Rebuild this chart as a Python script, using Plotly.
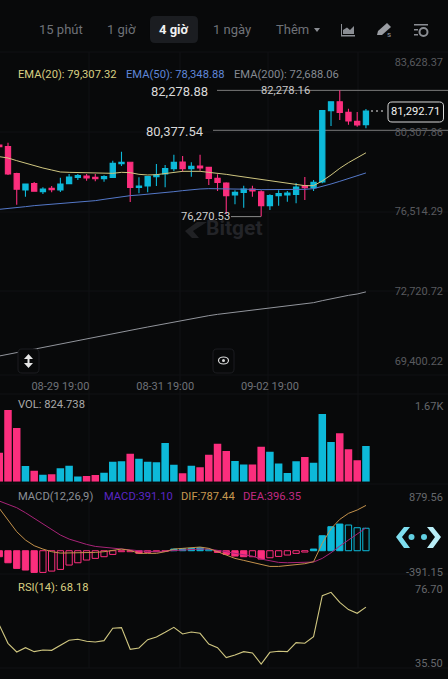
import plotly.graph_objects as go

# ---------- data ----------
opens = [79678,79599,78314,77537,77839,77458,77616,77537,77839,78140,78203,78140,78076,78140,78790,78854,77664,77728,78172,78298,78552,78870,78552,78679,78615,78092,77870,77299,77426,77584,77457,76791,77267,77299,77330,77743,77648,77918,81312,81740,81232,80804,80646]
highs = [79710,79789,78362,77840,77918,77664,77728,78124,78298,78298,78298,78298,78235,78933,79361,78885,78140,78172,78774,78727,79218,79155,78854,79218,78615,78282,77900,77521,77743,77743,77521,77330,77521,77489,77870,78155,78012,81312,81740,82278.88,81407,81248,81390]
lows = [79560,78251,76839,77220,77470,77347,77426,77442,77830,78013,77981,77950,77934,78130,78679,76966,77379,77426,77728,77664,78425,78409,78172,78457,77774,77489,76379,76855,76696,77219,76270.53,76585,76791,76981,76902,77061,77489,77855,80582,80868,80646,80551,80471]
closes = [79599,78298,77569,77823,77474,77585,77553,77823,78156,78219,78108,78076,78171,78806,78854,77664,77728,78172,78251,78552,78854,78552,78663,78584,78092,77901,77267,77426,77584,77489,76791,77267,77362,77394,77679,77648,77901,81312,81740,81232,80820,80630,81292.71]
ema20 = [79123,79060,78933,78806,78679,78584,78489,78394,78378,78362,78346,78330,78330,78330,78378,78362,78283,78251,78267,78330,78394,78425,78425,78425,78377,78345,78282,78219,78155,78092,78028,77965,77901,77838,77774,77743,77743,77966,78251,78568,78838,79060,79307.32]
ema50 = [76617,76649,76681,76744,76792,76824,76840,76887,76935,76966,76998,77030,77093,77157,77220,77268,77299,77331,77363,77410,77458,77506,77553,77585,77601,77601,77585,77569,77569,77569,77553,77553,77553,77553,77553,77569,77601,77696,77823,77950,78076,78203,78348.88]
ema200 = [69637,69716,69795,69875,69954,70033,70113,70192,70271,70351,70446,70525,70604,70700,70779,70858,70937,71017,71096,71175,71255,71334,71429,71493,71556,71619,71667,71715,71762,71810,71857,71905,71952,72000,72047,72111,72175,72270,72365,72460,72524,72587,72688.06]
volume = [670,1655,1240,362,254,162,170,308,370,123,131,154,208,462,470,647,531,462,447,893,393,193,370,331,624,878,708,477,400,400,808,693,423,200,470,570,439,1563,916,1117,747,493,824.738]
macd_hist = [-104,-209,-307,-336,-377,-377,-354,-325,-249,-209,-162,-133,-104,-64,-17,-17,-46,-29,-17,-12,29,35,41,52,23,-29,-64,-93,-104,-104,-145,-122,-99,-75,-46,-23,29,261,418,464,447,400,391.10]
dif = [737,534,331,186,87,29,-17,-41,-41,-35,-29,-29,-17,0,29,6,-46,-46,-46,-17,29,41,58,64,41,-17,-64,-133,-168,-203,-249,-273,-273,-261,-249,-226,-191,128,383,545,650,708,787.44]
dea = [864,812,748,661,563,458,360,273,203,151,110,75,58,41,29,12,0,-12,-17,-6,6,12,23,29,29,12,-17,-46,-75,-93,-145,-180,-203,-209,-209,-209,-197,-133,-35,81,186,284,396.35]
rsi = [57.92,47.39,42.40,44.89,42.60,43.55,43.36,46.24,49.11,49.68,48.54,48.15,48.92,56.01,56.39,43.94,44.70,49.49,51.03,53.71,56.58,52.75,53.90,53.13,46.99,44.89,39.15,40.68,42.60,41.83,35.50,42.21,42.79,42.60,47.77,47.39,51.22,74.78,76.70,70.95,66.74,64.63,68.18]
date_labels = ["08-29 19:00", "08-31 19:00", "09-02 19:00"]
date_positions = [7, 19, 31]
price_ticks = [83628.37, 80307.86, 76514.29, 72720.72, 69400.22]
intervals = ["15 phút", "1 giờ", "4 giờ", "1 ngày", "Thêm"]

# ---------- styling ----------
W, H = 448, 679
BG = "#08090a"
UP = "#0db9d9"
DOWN = "#fb2e7d"
GRID = "#111215"
FONT = "Roboto"
xs = list(range(len(closes)))

def px(x): return x / W
def py(y): return 1 - y / H
def dom(top, bottom): return [py(bottom), py(top)]

shapes, annos = [], []

def label(x, y, text, size=11, color="#888", anchor="left", bold=False):
    t = f"<b>{text}</b>" if bold else text
    annos.append(dict(x=px(x), y=py(y), xref="paper", yref="paper", text=t, showarrow=False,
                      xanchor=anchor, yanchor="middle", font=dict(size=size, color=color, family=FONT),
                      borderpad=0, borderwidth=0))

def path(points, fill=None, line=None, width=1, close=True, layer="above"):
    d = "M " + " L ".join(f"{px(a):.5f} {py(b):.5f}" for a, b in points) + (" Z" if close else "")
    shapes.append(dict(type="path", path=d, xref="paper", yref="paper", layer=layer,
                       fillcolor=fill or "rgba(0,0,0,0)", line=dict(color=line or "rgba(0,0,0,0)", width=width if line else 0)))

def rect(x0, y0, x1, y1, fill=None, line=None, width=1, layer="above", r=0):
    d = (f"M {px(x0+r):.5f} {py(y0):.5f} L {px(x1-r):.5f} {py(y0):.5f} Q {px(x1):.5f} {py(y0):.5f} {px(x1):.5f} {py(y0+r):.5f} "
         f"L {px(x1):.5f} {py(y1-r):.5f} Q {px(x1):.5f} {py(y1):.5f} {px(x1-r):.5f} {py(y1):.5f} "
         f"L {px(x0+r):.5f} {py(y1):.5f} Q {px(x0):.5f} {py(y1):.5f} {px(x0):.5f} {py(y1-r):.5f} "
         f"L {px(x0):.5f} {py(y0+r):.5f} Q {px(x0):.5f} {py(y0):.5f} {px(x0+r):.5f} {py(y0):.5f} Z")
    shapes.append(dict(type="path", path=d, xref="paper", yref="paper", layer=layer,
                       fillcolor=fill or "rgba(0,0,0,0)", line=dict(color=line or "rgba(0,0,0,0)", width=width if line else 0)))

# faint frame / grid
for gx in (89, 180, 268, 358):
    path([(gx, 52), (gx, 668)], line=GRID, width=1, close=False, layer="below")
for gy in (52, 132, 212, 291, 375, 394, 484, 574, 668):
    path([(0, gy), (448, gy)], line=GRID, width=1, close=False, layer="below")

# header
rect(150, 16, 198, 43, fill="#1b1d21", r=5)
label(61, 30, intervals[0], 13, "#6f7278", "center")
label(121, 30, intervals[1], 13, "#6f7278", "center")
label(174, 30, intervals[2], 13, "#f2f2f2", "center", bold=True)
label(232, 30, intervals[3], 13, "#6f7278", "center")
label(292, 30, intervals[4], 13, "#6f7278", "center")
path([(314, 28), (320, 28), (317, 32)], fill="#8a8d93")
# area-chart icon
path([(341, 24), (342, 24), (342, 35), (355, 35), (355, 36.5), (341, 36.5)], fill="#8a8d93")
path([(343, 34), (343, 30), (347, 27.5), (350, 30), (354, 26), (354, 34)], fill="#8a8d93")
# pen icon
path([(377, 35), (378, 31), (387, 23), (391, 27), (382, 35)], fill="#9a9da3")
label(388.5, 34, "s", 8, "#9a9da3", "center")
# settings icon
path([(414, 24), (428, 24), (428, 25.5), (414, 25.5)], fill="#8a8d93")
path([(414, 29), (418, 29), (418, 30.5), (414, 30.5)], fill="#8a8d93")
path([(414, 34), (418, 34), (418, 35.5), (414, 35.5)], fill="#8a8d93")
shapes.append(dict(type="circle", x0=px(419.5), x1=px(427.5), y0=py(28), y1=py(36), xref="paper", yref="paper",
                   line=dict(color="#8a8d93", width=2)))

# legends
label(18, 74, "EMA(20): 79,307.32", 11.2, "#d8cf82")
label(126, 74, "EMA(50): 78,348.88", 11.2, "#5f86d8")
label(234, 74, "EMA(200): 72,688.06", 11.2, "#858a92")
label(18, 404, "VOL: 824.738", 11.2, "#a8a8a8")
label(18, 496, "MACD(12,26,9)", 11.2, "#8b8f96")
label(104, 496, "MACD:391.10", 11.2, "#5a26c4")
label(181, 496, "DIF:787.44", 11.2, "#c7984f")
label(243, 496, "DEA:396.35", 11.2, "#c02a83")
label(18, 587, "RSI(14): 68.18", 11.2, "#d8cf82")

# pane scale labels
label(443, 406, "1.67K", 11, "#66686c", "right")
label(443, 498, "879.56", 11, "#66686c", "right")
label(443, 572, "-391.15", 11, "#66686c", "right")
label(443, 589, "76.70", 11, "#66686c", "right")
label(443, 663, "35.50", 11, "#66686c", "right")

# price annotations
label(179.5, 91.5, "82,278.88", 13, "#d8d8d8", "center")
label(174.5, 131.5, "80,377.54", 13, "#d8d8d8", "center")
label(285, 90.5, "82,278.16", 11.2, "#c8c8c8", "center")
label(205.5, 217, "76,270.53", 11.2, "#d0d0d0", "center")
for yv, x0 in ((82278.88, 217), (80377.54, 213)):
    shapes.append(dict(type="line", xref="paper", yref="y", x0=px(x0), x1=1, y0=yv, y1=yv, layer="below",
                       line=dict(color="#7a7a7a", width=1)))
shapes.append(dict(type="line", xref="paper", yref="y", x0=px(231), x1=px(261), y0=lows[30], y1=lows[30],
                   line=dict(color="#8a8a8a", width=1)))
path([(371, 111), (385, 111)], line="#e8e8e8", width=1.2, close=False)
shapes[-1]["line"]["dash"] = "2px,3px"
rect(388, 102, 443.5, 122, fill=BG, line="#d8d8d8", width=1, r=4)
label(415.7, 112, "81,292.71", 11.2, "#f0f0f0", "center")

# watermark
path([(185, 231), (197, 222), (207, 222), (193, 231), (199, 238), (192, 238)], fill="#202124", layer="below")
label(206, 228, "Bitget", 21, "#232428", "left", bold=True)

# bottom-of-pane buttons
rect(18, 349, 39, 373, fill=BG, line="#1c1d21", r=4)
path([(28.5, 354), (33, 359), (29.5, 359), (29.5, 363), (33, 363), (28.5, 368), (24, 363), (27.5, 363), (27.5, 359), (24, 359)], fill="#e6e6e6")
rect(213, 349, 234, 373, fill=BG, line="#1c1d21", r=4)
shapes.append(dict(type="circle", x0=px(218.5), x1=px(228.5), y0=py(357), y1=py(364), xref="paper", yref="paper",
                   line=dict(color="#d8d8d8", width=1.2)))
shapes.append(dict(type="circle", x0=px(222), x1=px(225), y0=py(359), y1=py(362), xref="paper", yref="paper",
                   fillcolor="#d8d8d8", line=dict(width=0)))

# cyan pager glyph
path([(404, 527), (410, 527), (402, 537), (410, 548), (404, 548), (396, 537)], fill="#7fdff0")
path([(433, 527), (427, 527), (435, 537), (427, 548), (433, 548), (441, 537)], fill="#b9eef7")
for cx in (411.5, 424):
    shapes.append(dict(type="circle", x0=px(cx-3), x1=px(cx+3), y0=py(534), y1=py(540), xref="paper", yref="paper",
                       fillcolor="#62cfe2", line=dict(width=0)))

# ---------- traces ----------
fig = go.Figure()
fig.add_trace(go.Candlestick(x=xs, open=opens, high=highs, low=lows, close=closes, yaxis="y", xaxis="x",
                             whiskerwidth=0,
                             increasing=dict(line=dict(color=UP, width=1.1), fillcolor=UP),
                             decreasing=dict(line=dict(color=DOWN, width=1.1), fillcolor=DOWN)))
for series, color, w in ((ema200, "#92959c", 1), (ema50, "#5478c8", 1), (ema20, "#cfc680", 1)):
    fig.add_trace(go.Scatter(x=xs, y=series, mode="lines", line=dict(color=color, width=w), yaxis="y", xaxis="x"))

vol_colors = [UP if c >= o else DOWN for o, c in zip(opens, closes)]
fig.add_trace(go.Bar(x=xs, y=volume, width=0.86, marker=dict(color=vol_colors, line=dict(width=0)), yaxis="y2", xaxis="x"))

hist_line, hist_fill = [], []
for i, v in enumerate(macd_hist):
    col = UP if v >= 0 else DOWN
    hist_line.append(col)
    grow = i == 0 or abs(v) > abs(macd_hist[i - 1])
    hist_fill.append(col if grow else "rgba(0,0,0,0)")
fig.add_trace(go.Bar(x=xs, y=macd_hist, width=0.72, marker=dict(color=hist_fill, line=dict(color=hist_line, width=1)), yaxis="y3", xaxis="x"))
fig.add_trace(go.Scatter(x=xs, y=dea, mode="lines", line=dict(color="#a82478", width=1), yaxis="y3", xaxis="x"))
fig.add_trace(go.Scatter(x=xs, y=dif, mode="lines", line=dict(color="#c4924c", width=1), yaxis="y3", xaxis="x"))
fig.add_trace(go.Scatter(x=xs, y=rsi, mode="lines", line=dict(color="#cfc680", width=1.1), yaxis="y4", xaxis="x"))

# ---------- axes ----------
def price_at(y): return 83628.37 - (y - 62) * 47.59
def axis(top, bottom, rng, **kw):
    return dict(domain=dom(top, bottom), range=rng, side="right", anchor="x", ticks="", showgrid=False,
                zeroline=False, showline=False, fixedrange=True, **kw)

fig.update_layout(
    width=W, height=H, margin=dict(l=0, r=0, t=0, b=0), paper_bgcolor=BG, plot_bgcolor="rgba(0,0,0,0)",
    showlegend=False, barmode="overlay", boxgap=0.14, font=dict(family=FONT),
    shapes=shapes, annotations=annos,
    xaxis=dict(range=[0.084, 51.4], anchor="y", domain=[0, 1], tickvals=date_positions, ticktext=date_labels, ticks="",
               showgrid=False, zeroline=False, showline=False, rangeslider=dict(visible=False),
               tickfont=dict(size=11, color="#6f7278", family=FONT), fixedrange=True, ticklabelstandoff=3),
    yaxis=axis(52, 375, [price_at(375), price_at(52)], ticklabelposition="inside", tickvals=price_ticks,
               ticktext=[f"{v:,.2f}" for v in price_ticks], ticklabelstandoff=2,
               tickfont=dict(size=11, color="#58595e", family=FONT)),
    yaxis2=axis(395, 481.7, [0, 2003], showticklabels=False),
    yaxis3=axis(485, 573.5, [-396, 1143], showticklabels=False),
    yaxis4=axis(575, 668, [33.2, 86.64], showticklabels=False),
)
fig.write_html("out.html", config=dict(displayModeBar=False),
               post_script="document.body.style.margin='0';document.body.style.background='%s';" % BG)
